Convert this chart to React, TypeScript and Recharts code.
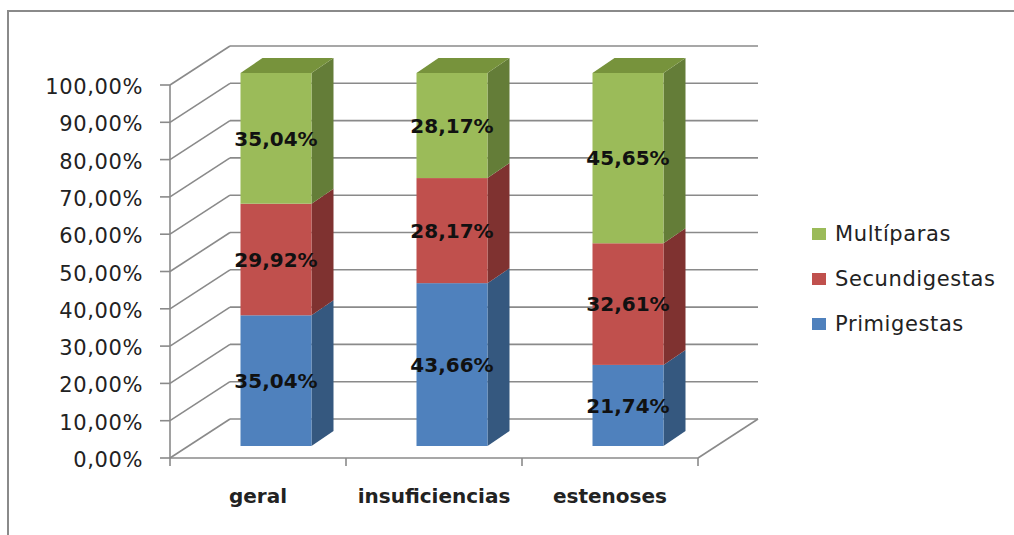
import { Bar, BarChart, CartesianGrid, LabelList, Legend, XAxis, YAxis } from "recharts";

const CATEGORIES = ["geral", "insuficiencias", "estenoses"];
const PRIMIGESTAS = [35.04, 43.66, 21.74];
const SECUNDIGESTAS = [29.92, 28.17, 32.61];
const MULTIPARAS = [35.04, 28.17, 45.65];
const Y_TICKS = [0, 10, 20, 30, 40, 50, 60, 70, 80, 90, 100];
// legend lists the stack top-down
const LEGEND_ORDER = ["Multíparas", "Secundigestas", "Primigestas"];

const data = CATEGORIES.map((name, i) => ({
  name,
  primigestas: PRIMIGESTAS[i],
  secundigestas: SECUNDIGESTAS[i],
  multiparas: MULTIPARAS[i],
}));

const W = 1014;
const H = 535;
const MARGIN = { top: 85, right: 316, left: 0, bottom: 37 };
const Y_AXIS_W = 170;
const X_AXIS_H = 40;
const PLOT_LEFT = MARGIN.left + Y_AXIS_W;
const PLOT_RIGHT = W - MARGIN.right;
const PLOT_BOTTOM = H - MARGIN.bottom - X_AXIS_H;
const HALF_BAND = (PLOT_RIGHT - PLOT_LEFT) / CATEGORIES.length / 2;

// 3d offsets: back wall, bar front face, bar thickness
const BACK = { dx: 60, dy: -39 };
const FACE = { dx: 17.5, dy: -12 };
const DEPTH = { dx: 22, dy: -15 };

const GRID = "#8a8a8a";
const FONT = "DejaVu Sans";

const fmt = (v: number) => `${v.toFixed(2).replace(".", ",")}%`;

function makeShape(side: string, top: string | null) {
  return (props: any) => {
    const { x, y, width, height, fill } = props;
    if (!height || height <= 0) return <g />;
    const fx = x + FACE.dx;
    const fy = y + FACE.dy;
    const r = fx + width;
    const b = fy + height;
    return (
      <g>
        <polygon
          points={`${r},${fy} ${r + DEPTH.dx},${fy + DEPTH.dy} ${r + DEPTH.dx},${b + DEPTH.dy} ${r},${b}`}
          fill={side}
        />
        {top && (
          <polygon
            points={`${fx},${fy} ${r},${fy} ${r + DEPTH.dx},${fy + DEPTH.dy} ${fx + DEPTH.dx},${fy + DEPTH.dy}`}
            fill={top}
          />
        )}
        <rect x={fx} y={fy} width={width} height={height} fill={fill} />
      </g>
    );
  };
}

function ValueLabel(props: any) {
  const box = props.viewBox ?? props;
  const { x, y, width, height } = box;
  return (
    <text
      x={x + width / 2 + FACE.dx}
      y={y + height / 2 + FACE.dy}
      dy="0.36em"
      textAnchor="middle"
      fontFamily={FONT}
      fontWeight="bold"
      fontSize={20}
      fill="#111"
    >
      {fmt(Number(props.value))}
    </text>
  );
}

function WallLine(props: any) {
  const { x1, y1, x2 } = props;
  const bx = BACK.dx;
  const by = BACK.dy;
  const floor = Math.abs(y1 - PLOT_BOTTOM) < 0.5;
  return (
    <g stroke={GRID} strokeWidth={1.6} fill="none">
      <line x1={x1} y1={y1} x2={x1 + bx} y2={y1 + by} />
      <line x1={x1 + bx} y1={y1 + by} x2={x2 + bx} y2={y1 + by} />
      {floor && <line x1={x2} y1={y1} x2={x2 + bx} y2={y1 + by} />}
    </g>
  );
}

function YTick(props: any) {
  const { x, y, payload } = props;
  return (
    <text x={x} y={y + 9} textAnchor="end" fontFamily={FONT} fontSize={21} letterSpacing={0.6} fill="#222">
      {fmt(payload.value)}
    </text>
  );
}

function XTick(props: any) {
  const { x, y, payload, index } = props;
  const last = index === CATEGORIES.length - 1;
  return (
    <g>
      <line x1={x - HALF_BAND} y1={y} x2={x - HALF_BAND} y2={y + 8} stroke={GRID} strokeWidth={1.6} />
      {last && <line x1={x + HALF_BAND} y1={y} x2={x + HALF_BAND} y2={y + 8} stroke={GRID} strokeWidth={1.6} />}
      <text x={x} y={y + 45} textAnchor="middle" fontFamily={FONT} fontWeight="bold" fontSize={20} fill="#222">
        {payload.value}
      </text>
    </g>
  );
}

function LegendList(props: any) {
  const items = [...(props.payload ?? [])].sort(
    (a: any, b: any) => LEGEND_ORDER.indexOf(a.value) - LEGEND_ORDER.indexOf(b.value)
  );
  return (
    <div style={{ fontFamily: FONT, fontSize: 21, letterSpacing: 0.6, color: "#222" }}>
      {items.map((it: any) => (
        <div key={it.value} style={{ display: "flex", alignItems: "center", height: 45 }}>
          <span style={{ width: 14, height: 12, background: it.color, marginRight: 9, display: "inline-block" }} />
          <span>{it.value}</span>
        </div>
      ))}
    </div>
  );
}

export default function App() {
  return (
    <div style={{ position: "relative", width: W, height: H, overflow: "hidden", background: "#fff" }}>
      <style>{"body{margin:0}"}</style>
      <div
        style={{
          position: "absolute",
          left: 7,
          top: 10,
          width: 1100,
          height: 600,
          borderTop: "2px solid #8a8a8a",
          borderLeft: "2px solid #8a8a8a",
        }}
      />
      <BarChart width={W} height={H} data={data} margin={MARGIN}>
        <CartesianGrid horizontal={(p: any) => <WallLine key={p.key} {...p} />} vertical={false} />
        <XAxis
          dataKey="name"
          height={X_AXIS_H}
          tickSize={0}
          tickMargin={0}
          tickLine={false}
          axisLine={{ stroke: GRID, strokeWidth: 1.6 }}
          tick={<XTick />}
          interval={0}
        />
        <YAxis
          width={Y_AXIS_W}
          domain={[0, 100]}
          ticks={Y_TICKS}
          tickSize={10}
          tickMargin={17}
          tickLine={{ stroke: GRID, strokeWidth: 1.6 }}
          axisLine={{ stroke: GRID, strokeWidth: 1.6 }}
          tick={<YTick />}
        />
        <Legend
          layout="vertical"
          align="center"
          verticalAlign="middle"
          wrapperStyle={{ left: 812, top: 211 }}
          content={<LegendList />}
        />
        <Bar
          dataKey="primigestas"
          name="Primigestas"
          stackId="s"
          fill="#4F81BD"
          barSize={71}
          shape={makeShape("#35587F", null)}
          isAnimationActive={false}
        >
          <LabelList dataKey="primigestas" content={<ValueLabel />} />
        </Bar>
        <Bar
          dataKey="secundigestas"
          name="Secundigestas"
          stackId="s"
          fill="#C0504D"
          barSize={71}
          shape={makeShape("#7F3230", null)}
          isAnimationActive={false}
        >
          <LabelList dataKey="secundigestas" content={<ValueLabel />} />
        </Bar>
        <Bar
          dataKey="multiparas"
          name="Multíparas"
          stackId="s"
          fill="#9BBB59"
          barSize={71}
          shape={makeShape("#647D38", "#77933C")}
          isAnimationActive={false}
        >
          <LabelList dataKey="multiparas" content={<ValueLabel />} />
        </Bar>
      </BarChart>
    </div>
  );
}
